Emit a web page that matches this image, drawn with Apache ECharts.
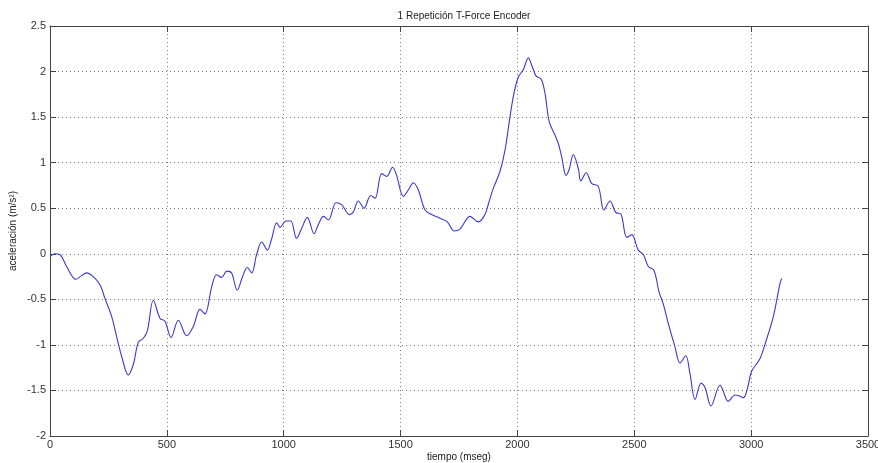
<!DOCTYPE html>
<html>
<head>
<meta charset="utf-8">
<script src="https://cdn.jsdelivr.net/npm/echarts@6/dist/echarts.min.js"></script>
<style>html,body{margin:0;padding:0;background:#fff}#c{width:878px;height:463px}</style>
</head>
<body>
<div id="c"></div>
<script>
const titleText = "1 Repetición T-Force Encoder";
const xName = "tiempo (mseg)";
const yName = "aceleración (m/s²)";
const timeMs = [0, 20, 43, 71, 111, 135, 157, 185, 214, 235, 264, 285, 307, 335, 357, 378, 399, 417, 442, 471, 492, 518, 549, 585, 613, 642, 663, 692, 713, 735, 756, 777, 801, 824, 844, 863, 884, 906, 930, 948, 970, 984, 1010, 1030, 1055, 1077, 1101, 1130, 1148, 1170, 1191, 1224, 1248, 1281, 1298, 1319, 1344, 1372, 1391, 1419, 1441, 1466, 1483, 1512, 1533, 1555, 1576, 1605, 1633, 1669, 1700, 1729, 1754, 1797, 1833, 1861, 1875, 1897, 1925, 1947, 1968, 1985, 2004, 2025, 2047, 2061, 2080, 2101, 2118, 2136, 2161, 2175, 2189, 2208, 2222, 2239, 2261, 2271, 2294, 2318, 2346, 2370, 2396, 2422, 2442, 2468, 2489, 2517, 2539, 2560, 2584, 2606, 2624, 2646, 2674, 2696, 2720, 2738, 2760, 2786, 2803, 2828, 2867, 2878, 2902, 2931, 2950, 2967, 2984, 3002, 3038, 3067, 3095, 3124, 3131];
const accel = [-0.03, 0.0, -0.01, -0.14, -0.28, -0.24, -0.21, -0.25, -0.34, -0.49, -0.69, -0.91, -1.13, -1.33, -1.21, -0.97, -0.93, -0.84, -0.51, -0.71, -0.74, -0.92, -0.73, -0.90, -0.80, -0.61, -0.66, -0.36, -0.23, -0.26, -0.19, -0.21, -0.40, -0.25, -0.15, -0.21, -0.01, 0.13, 0.04, 0.16, 0.34, 0.29, 0.36, 0.36, 0.17, 0.28, 0.40, 0.22, 0.32, 0.41, 0.37, 0.56, 0.54, 0.43, 0.46, 0.58, 0.50, 0.64, 0.61, 0.88, 0.85, 0.95, 0.86, 0.63, 0.70, 0.78, 0.70, 0.48, 0.43, 0.39, 0.35, 0.25, 0.27, 0.41, 0.35, 0.43, 0.54, 0.72, 0.90, 1.14, 1.50, 1.76, 1.94, 2.02, 2.15, 2.07, 1.95, 1.92, 1.76, 1.45, 1.30, 1.21, 1.07, 0.86, 0.93, 1.09, 0.93, 0.80, 0.89, 0.77, 0.74, 0.48, 0.58, 0.45, 0.44, 0.18, 0.21, 0.04, -0.01, -0.14, -0.18, -0.42, -0.55, -0.77, -1.02, -1.20, -1.12, -1.31, -1.60, -1.42, -1.47, -1.67, -1.44, -1.49, -1.62, -1.55, -1.56, -1.58, -1.48, -1.29, -1.15, -0.93, -0.69, -0.32, -0.27];
const xMin = 0, xMax = 3500, xStep = 500;
const yMin = -2, yMax = 2.5, yStep = 0.5;

const font = '"Liberation Sans", Arial, sans-serif';
const axisCol = '#444';
const series = timeMs.map((t, i) => [t, accel[i]]);
const plain = v => String(v);

const chart = echarts.init(document.getElementById('c'), null, {renderer: 'canvas'});
const baseX = {type: 'value', min: xMin, max: xMax, interval: xStep};
const baseY = {type: 'value', min: yMin, max: yMax, interval: yStep};
chart.setOption({
  animation: false,
  backgroundColor: '#fff',
  title: {text: titleText, left: 459, top: 6, textAlign: 'center',
    textStyle: {fontFamily: font, fontSize: 10, fontWeight: 'normal', color: '#222'}},
  grid: {left: 50, right: 10, top: 26, bottom: 27, containLabel: false, outerBoundsMode: 'none'},
  xAxis: [
    Object.assign({}, baseX, {position: 'bottom', name: xName, nameLocation: 'middle', nameGap: 16,
      nameMoveOverlap: false,
      nameTextStyle: {fontFamily: font, fontSize: 10, color: '#222'},
      axisLine: {show: true, onZero: false, lineStyle: {color: axisCol, width: 1}},
      axisTick: {inside: true, length: 6, lineStyle: {color: axisCol}},
      axisLabel: {fontFamily: font, fontSize: 11, color: '#333', margin: 3, formatter: plain},
      splitLine: {show: true, lineStyle: {color: '#777', type: [1, 3], width: 1}}}),
    Object.assign({}, baseX, {position: 'top',
      axisLine: {show: true, onZero: false, lineStyle: {color: axisCol, width: 1}},
      axisTick: {inside: true, length: 6, lineStyle: {color: axisCol}},
      axisLabel: {show: false}, splitLine: {show: false}})
  ],
  yAxis: [
    Object.assign({}, baseY, {position: 'left', name: yName, nameLocation: 'middle', nameGap: 32,
      nameMoveOverlap: false,
      nameTextStyle: {fontFamily: font, fontSize: 10, color: '#222'},
      axisLine: {show: true, onZero: false, lineStyle: {color: axisCol, width: 1}},
      axisTick: {show: true, inside: true, length: 6, lineStyle: {color: axisCol}},
      axisLabel: {fontFamily: font, fontSize: 11, color: '#333', margin: 4, formatter: plain},
      splitLine: {show: true, lineStyle: {color: '#777', type: [1, 3], width: 1}}}),
    Object.assign({}, baseY, {position: 'right',
      axisLine: {show: true, onZero: false, lineStyle: {color: axisCol, width: 1}},
      axisTick: {show: true, inside: true, length: 6, lineStyle: {color: axisCol}},
      axisLabel: {show: false}, splitLine: {show: false}})
  ],
  series: [{
    type: 'line', data: series, xAxisIndex: 0, yAxisIndex: 0,
    showSymbol: false, smooth: 0.35,
    lineStyle: {color: '#3a3acc', width: 1.1}
  }]
});
</script>
</body>
</html>
